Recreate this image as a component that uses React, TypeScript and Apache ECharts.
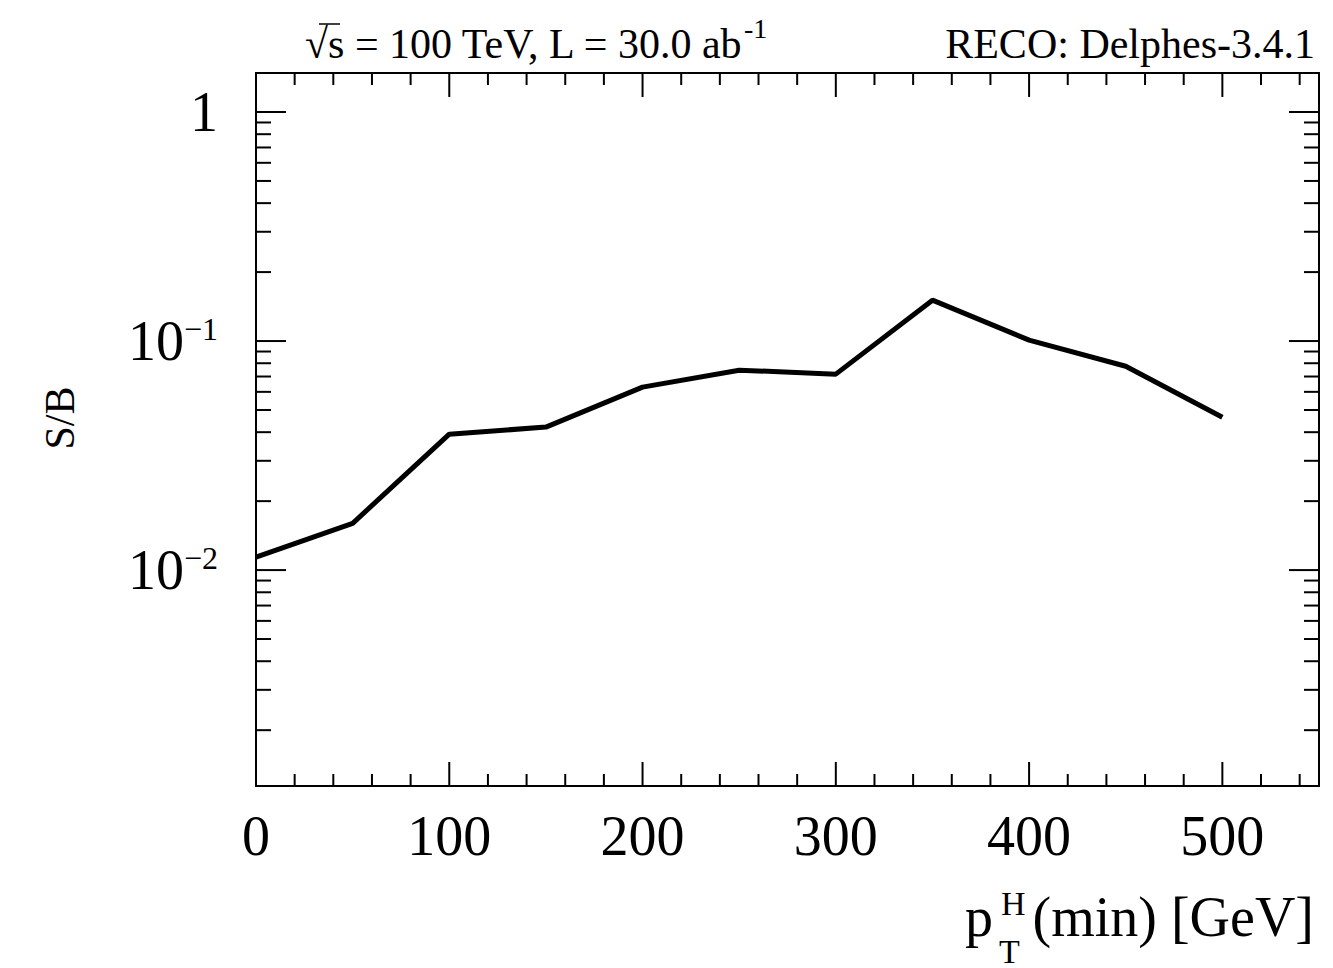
import React, { useEffect, useRef } from "react";
import * as echarts from "echarts";

const ptMin = [0, 50, 100, 150, 200, 250, 300, 350, 400, 450, 500];
const sOverB = [0.0114, 0.016, 0.0392, 0.0421, 0.0629, 0.0746, 0.0717, 0.1508, 0.1009, 0.0776, 0.0465];

const xMajorTicks = [0, 100, 200, 300, 400, 500];
const xMinorTicks = [20, 40, 60, 80, 120, 140, 160, 180, 220, 240, 260, 280, 320, 340, 360, 380, 420, 440, 460, 480, 520, 540];
const yMajorTicks = [0.01, 0.1, 1];
const yMinorTicks = [
  0.002, 0.003, 0.004, 0.005, 0.006, 0.007, 0.008, 0.009,
  0.02, 0.03, 0.04, 0.05, 0.06, 0.07, 0.08, 0.09,
  0.2, 0.3, 0.4, 0.5, 0.6, 0.7, 0.8, 0.9,
];

const X_MIN = 0;
const X_MAX = 550;
const Y_MIN = 0.001141;
const Y_MAX = 1.48;

const SERIF = "'Liberation Serif', 'Times New Roman', serif";

export default function App() {
  const ref = useRef<HTMLDivElement>(null);

  useEffect(() => {
    if (!ref.current) return;
    const chart = echarts.init(ref.current, null, { renderer: "svg" });

    const yTickData = [
      ...yMajorTicks.map((v) => [1, v, 1]),
      ...yMinorTicks.map((v) => [1, v, 0]),
    ];
    const xTickData = [
      ...xMajorTicks.map((v) => [v, 0.01, 1]),
      ...xMinorTicks.map((v) => [v, 0.01, 0]),
    ];

    const option: any = {
      animation: false,
      backgroundColor: "#fff",
      grid: {
        left: 256,
        right: 14,
        top: 73,
        bottom: 182,
        show: true,
        borderColor: "#000",
        borderWidth: 2,
        backgroundColor: "transparent",
      },
      xAxis: {
        type: "value",
        min: X_MIN,
        max: X_MAX,
        interval: 100,
        axisLine: { show: false },
        axisTick: { show: false },
        splitLine: { show: false },
        axisLabel: {
          margin: 22,
          fontFamily: SERIF,
          fontSize: 56,
          color: "#000",
          showMaxLabel: false,
          formatter: (v: number) => (v % 100 === 0 ? String(v) : ""),
        },
      },
      yAxis: {
        type: "log",
        logBase: 10,
        min: Y_MIN,
        max: Y_MAX,
        axisLine: { show: false },
        axisTick: { show: false },
        splitLine: { show: false },
        axisLabel: {
          margin: 38,
          showMinLabel: true,
          showMaxLabel: true,
          formatter: (v: number) => {
            const l = Math.log10(v);
            const e = Math.round(l);
            if (Math.abs(l - e) > 1e-6) return "";
            if (e === 0) return "{b|1}";
            return "{b|10}{s|\u2212" + String(-e) + "}";
          },
          rich: {
            b: { fontFamily: SERIF, fontSize: 56, color: "#000", lineHeight: 56 },
            s: { fontFamily: SERIF, fontSize: 32, color: "#000", verticalAlign: "top", lineHeight: 30 },
          },
        },
      },
      series: [
        {
          type: "line",
          data: ptMin.map((x, i) => [x, sOverB[i]]),
          showSymbol: false,
          symbol: "none",
          lineStyle: { color: "#000", width: 5 },
          z: 5,
        },
        {
          type: "custom",
          coordinateSystem: "cartesian2d",
          data: yTickData,
          encode: { x: 0, y: 1 },
          clip: false,
          silent: true,
          renderItem: (params: any, api: any) => {
            const cs = params.coordSys;
            const y = api.coord([X_MIN, api.value(1)])[1];
            const len = api.value(2) ? 30 : 15;
            const x0 = cs.x;
            const x1 = cs.x + cs.width;
            const style = { stroke: "#000", lineWidth: 2 };
            return {
              type: "group",
              children: [
                { type: "line", shape: { x1: x0, y1: y, x2: x0 + len, y2: y }, style },
                { type: "line", shape: { x1: x1 - len, y1: y, x2: x1, y2: y }, style },
              ],
            };
          },
        },
        {
          type: "custom",
          coordinateSystem: "cartesian2d",
          data: xTickData,
          encode: { x: 0, y: 1 },
          clip: false,
          silent: true,
          renderItem: (params: any, api: any) => {
            const cs = params.coordSys;
            const x = api.coord([api.value(0), 0.01])[0];
            const len = api.value(2) ? 24 : 12;
            const y0 = cs.y;
            const y1 = cs.y + cs.height;
            const style = { stroke: "#000", lineWidth: 2 };
            return {
              type: "group",
              children: [
                { type: "line", shape: { x1: x, y1: y1, x2: x, y2: y1 - len }, style },
                { type: "line", shape: { x1: x, y1: y0, x2: x, y2: y0 + len }, style },
              ],
            };
          },
        },
      ],
      graphic: [
        {
          type: "text",
          x: 305,
          y: 44,
          style: {
            text: "\u221As = 100 TeV, L = 30.0 ab",
            font: "42px " + SERIF,
            fill: "#000",
            textAlign: "left",
            verticalAlign: "middle",
          },
        },
        {
          type: "line",
          shape: { x1: 319, y1: 24, x2: 340, y2: 24 },
          style: { stroke: "#000", lineWidth: 1.5 },
        },
        {
          type: "text",
          x: 744,
          y: 28,
          style: {
            text: "-1",
            font: "28px " + SERIF,
            fill: "#000",
            textAlign: "left",
            verticalAlign: "middle",
          },
        },
        {
          type: "text",
          x: 1315,
          y: 44,
          style: {
            text: "RECO: Delphes-3.4.1",
            font: "42px " + SERIF,
            fill: "#000",
            textAlign: "right",
            verticalAlign: "middle",
          },
        },
        {
          type: "text",
          x: 60,
          y: 418,
          rotation: Math.PI / 2,
          style: {
            text: "S/B",
            font: "42px " + SERIF,
            fill: "#000",
            textAlign: "center",
            verticalAlign: "middle",
          },
        },
        {
          type: "text",
          x: 1314,
          y: 917,
          style: {
            text: "(min) [GeV]",
            font: "56px " + SERIF,
            fill: "#000",
            textAlign: "right",
            verticalAlign: "middle",
          },
        },
        {
          type: "text",
          x: 965,
          y: 917,
          style: {
            text: "p",
            font: "56px " + SERIF,
            fill: "#000",
            textAlign: "left",
            verticalAlign: "middle",
          },
        },
        {
          type: "text",
          x: 1001,
          y: 903,
          style: {
            text: "H",
            font: "34px " + SERIF,
            fill: "#000",
            textAlign: "left",
            verticalAlign: "middle",
          },
        },
        {
          type: "text",
          x: 999,
          y: 951,
          style: {
            text: "T",
            font: "34px " + SERIF,
            fill: "#000",
            textAlign: "left",
            verticalAlign: "middle",
          },
        },
      ],
    };

    chart.setOption(option);
    return () => chart.dispose();
  }, []);

  return (
    <div
      ref={ref}
      style={{ position: "fixed", left: 0, top: 0, width: 1333, height: 968, background: "#fff" }}
    />
  );
}
